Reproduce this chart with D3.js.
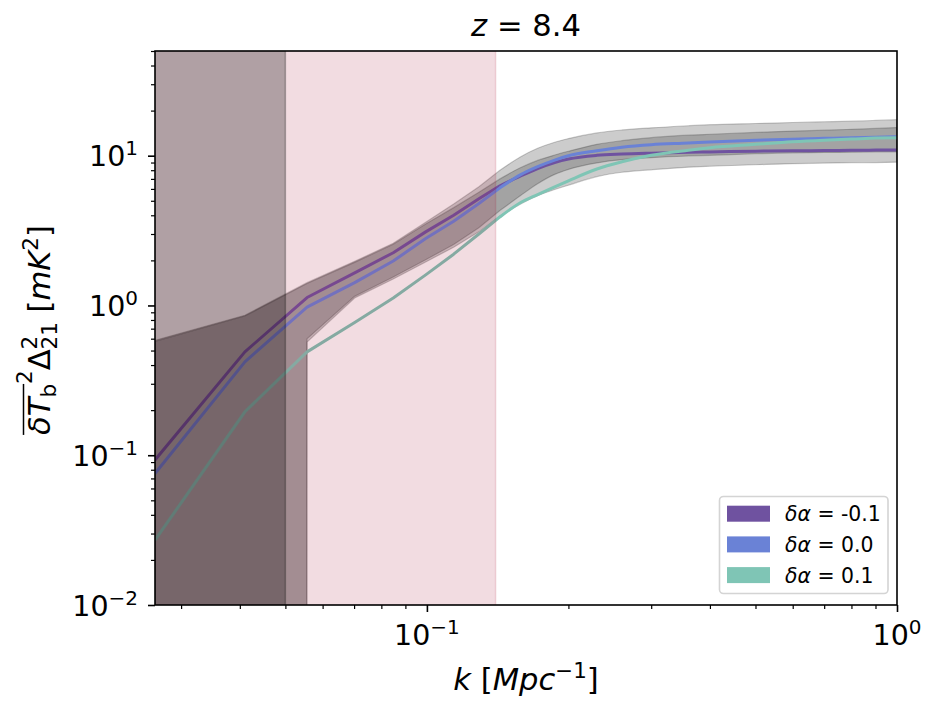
<!DOCTYPE html>
<html>
<head>
<meta charset="utf-8">
<script src="https://cdn.jsdelivr.net/npm/d3@7"></script>
<style>
  body { margin: 0; background: #fff; }
  svg { display: block; font-family: "DejaVu Sans", sans-serif; }
</style>
</head>
<body>
<svg id="chart" width="939" height="712"></svg>
<script>
// k bins [Mpc^-1]
var kVals = [0.0264, 0.041, 0.0556, 0.0702, 0.0848, 0.0994, 0.114, 0.129, 0.143, 0.158, 0.172, 0.187,
             0.2, 0.23, 0.26, 0.3, 0.36, 0.4, 0.5, 0.6, 0.7, 0.8, 0.9, 1.0];

// power spectra [mK^2] for the three delta-alpha runs
var psMinus = [0.093, 0.49, 1.13, 1.65, 2.25, 3.1, 4.0, 5.15, 6.3, 7.3, 8.2, 9.0,
               9.5, 10.05, 10.25, 10.4, 10.55, 10.6, 10.72, 10.78, 10.83, 10.86, 10.9, 10.92];
var psZero  = [0.0755, 0.42, 0.975, 1.42, 1.98, 2.8, 3.65, 4.8, 6.1, 7.45, 8.45, 9.35,
               10.0, 10.8, 11.4, 11.85, 12.15, 12.35, 12.67, 12.88, 13.05, 13.18, 13.28, 13.38];
var psPlus  = [0.0271, 0.195, 0.49, 0.77, 1.12, 1.6, 2.2, 3.0, 3.9, 4.85, 5.5, 6.2,
               6.8, 8.15, 9.1, 10.07, 10.88, 11.3, 11.9, 12.4, 12.7, 12.9, 13.1, 13.2];

// error bands around the fiducial (0 = lower edge not positive)
var outerUp  = [0.585, 0.86, 1.42, 1.97, 2.6, 3.6, 4.75, 6.2, 8.0, 9.8, 11.2, 12.3,
                13.0, 14.2, 14.85, 15.35, 15.85, 16.1, 16.4, 16.65, 16.85, 17.0, 17.2, 17.4];
var outerLow = [0, 0, 0.57, 1.12, 1.5, 1.95, 2.45, 3.1, 3.95, 4.75, 5.4, 5.95,
                6.35, 7.25, 7.75, 8.05, 8.38, 8.5, 8.7, 8.85, 8.92, 8.97, 9.0, 9.05];
var innerUp  = [0.575, 0.85, 1.4, 1.94, 2.56, 3.5, 4.5, 5.7, 7.0, 8.3, 9.3, 10.1,
                10.7, 11.9, 12.6, 13.2, 13.7, 13.9, 14.3, 14.6, 14.8, 15.0, 15.2, 15.4];
var innerLow = [0, 0, 0.6, 1.15, 1.55, 2.02, 2.55, 3.3, 4.3, 5.4, 6.5, 7.5,
                8.1, 8.95, 9.4, 9.7, 9.95, 10.05, 10.3, 10.45, 10.5, 10.55, 10.6, 10.6];

// shaded k ranges (upper k limit)
var spanPinkMax = 0.14;
var spanDarkMax = 0.05;

var seriesLabels = ["-0.1", "0.0", "0.1"];
var seriesColors = ["#6f52a0", "#6a82d6", "#7fc5b5"];

var xMajor = [0.1, 1];
var xMinor = [0.03, 0.04, 0.05, 0.06, 0.07, 0.08, 0.09, 0.2, 0.3, 0.4, 0.5, 0.6, 0.7, 0.8, 0.9];
var xMajorExp = [-1, 0];
var yMajor = [0.01, 0.1, 1, 10];
var yMajorExp = [-2, -1, 0, 1];
var yMinor = [0.02, 0.03, 0.04, 0.05, 0.06, 0.07, 0.08, 0.09,
              0.2, 0.3, 0.4, 0.5, 0.6, 0.7, 0.8, 0.9,
              2, 3, 4, 5, 6, 7, 8, 9, 20, 30, 40, 50];

var L = 155, R = 897, T = 51, B = 605;
var x = d3.scaleLog().domain([0.0264, 1.0]).range([L, R]);
var y = d3.scaleLog().domain([0.01, 50]).range([B, T]);

var svg = d3.select("#chart");
svg.append("defs").append("clipPath").attr("id", "plotClip")
    .append("rect").attr("x", L).attr("y", T).attr("width", R - L).attr("height", B - T);

var plot = svg.append("g").attr("clip-path", "url(#plotClip)");

// straight segments on the coarse low-k bins, smooth above
var split = 8;
var idxLin = d3.range(0, split + 1);
var idxMono = d3.range(split, kVals.length);

function yv(v) { return v > 0 ? y(v) : 1e5; }
function edge(vals, curve) {
    return d3.line().curve(curve)
        .x(function(i) { return x(kVals[i]); })
        .y(function(i) { return yv(vals[i]); });
}
function cont(s) { return s.replace(/^M/, "L"); }
function linePath(vals) {
    return edge(vals, d3.curveLinear)(idxLin) + cont(edge(vals, d3.curveMonotoneX)(idxMono));
}
function bandPath(lo, hi) {
    return edge(hi, d3.curveLinear)(idxLin)
        + cont(edge(hi, d3.curveMonotoneX)(idxMono))
        + cont(edge(lo, d3.curveMonotoneX)(idxMono.slice().reverse()))
        + cont(edge(lo, d3.curveLinear)(idxLin.slice().reverse())) + "Z";
}

// bands
[[outerLow, outerUp], [innerLow, innerUp]].forEach(function(b) {
    plot.append("path")
        .attr("d", bandPath(b[0], b[1]))
        .attr("fill", "rgba(0,0,0,0.2)")
        .attr("stroke", "rgba(0,0,0,0.2)")
        .attr("stroke-width", 1.2);
});

// lines
[psMinus, psZero, psPlus].forEach(function(s, j) {
    plot.append("path")
        .attr("d", linePath(s))
        .attr("fill", "none")
        .attr("stroke", seriesColors[j])
        .attr("stroke-width", 3)
        .attr("stroke-linejoin", "round");
});

// shaded spans
plot.append("rect")
    .attr("x", L - 2).attr("y", T - 2)
    .attr("width", x(spanPinkMax) - L + 2).attr("height", B - T + 4)
    .attr("fill", "rgba(168,22,55,0.15)")
    .attr("stroke", "rgba(168,22,55,0.15)")
    .attr("stroke-width", 1.5);
plot.append("rect")
    .attr("x", L - 2).attr("y", T - 2)
    .attr("width", x(spanDarkMax) - L + 2).attr("height", B - T + 4)
    .attr("fill", "rgba(0,0,0,0.27)")
    .attr("stroke", "rgba(0,0,0,0.27)")
    .attr("stroke-width", 1.5);

// axes
function styleTicks(g, w) {
    g.select(".domain").remove();
    g.selectAll(".tick line").attr("stroke", "#000").attr("stroke-width", w);
}
svg.append("g").attr("transform", "translate(0," + B + ")")
    .call(d3.axisBottom(x).tickValues(xMinor).tickSize(4).tickFormat(""))
    .call(styleTicks, 1.2);
svg.append("g").attr("transform", "translate(0," + B + ")")
    .call(d3.axisBottom(x).tickValues(xMajor).tickSize(7).tickFormat(""))
    .call(styleTicks, 1.6);
svg.append("g").attr("transform", "translate(" + L + ",0)")
    .call(d3.axisLeft(y).tickValues(yMinor).tickSize(4).tickFormat(""))
    .call(styleTicks, 1.2);
svg.append("g").attr("transform", "translate(" + L + ",0)")
    .call(d3.axisLeft(y).tickValues(yMajor).tickSize(7).tickFormat(""))
    .call(styleTicks, 1.6);

function powLabel(t, e) {
    t.append("tspan").text("10");
    t.append("tspan").attr("dy", -11).attr("font-size", "20px")
        .text(e < 0 ? "\u2212" + (-e) : "" + e);
}
xMajor.forEach(function(v, i) {
    var t = svg.append("text").attr("x", x(v)).attr("y", 645)
        .attr("text-anchor", "middle").attr("font-size", "28.5px");
    powLabel(t, xMajorExp[i]);
});
yMajor.forEach(function(v, i) {
    var t = svg.append("text").attr("x", 138).attr("y", y(v) + 10.5)
        .attr("text-anchor", "end").attr("font-size", "28.5px");
    powLabel(t, yMajorExp[i]);
});

// spines
svg.append("rect").attr("x", L).attr("y", T).attr("width", R - L).attr("height", B - T)
    .attr("fill", "none").attr("stroke", "#000").attr("stroke-width", 1.6);

// title
var title = svg.append("text").attr("x", (L + R) / 2).attr("y", 36)
    .attr("text-anchor", "middle").attr("font-size", "30.6px");
title.append("tspan").attr("font-style", "italic").text("z");
title.append("tspan").text(" = 8.4");

// x label
var xl = svg.append("text").attr("x", (L + R) / 2).attr("y", 690)
    .attr("text-anchor", "middle").attr("font-size", "30.6px");
xl.append("tspan").attr("font-style", "italic").text("k");
xl.append("tspan").text(" [");
xl.append("tspan").attr("font-style", "italic").text("Mpc");
xl.append("tspan").attr("dy", -12).attr("font-size", "21.4px").text("\u22121");
xl.append("tspan").attr("dy", 12).text("]");

// y label
var yg = svg.append("g").attr("transform", "translate(50," + ((T + B) / 2 + 2) + ") rotate(-90)");
var yl = yg.append("text").attr("x", 0).attr("y", 0)
    .attr("text-anchor", "middle").attr("font-size", "30.6px");
yl.append("tspan").attr("font-style", "italic").text("\u03b4T");
yl.append("tspan").attr("dy", 6).attr("font-size", "21.4px").text("b");
yl.append("tspan").attr("dy", -24).attr("font-size", "21.4px").text("2");
yl.append("tspan").attr("dy", 18).text("\u0394");
yl.append("tspan").attr("dy", -13).attr("font-size", "21.4px").text("2");
yl.append("tspan").attr("dx", -13.6).attr("dy", 20).attr("font-size", "21.4px").text("21");
yl.append("tspan").attr("dy", -7).text(" [");
yl.append("tspan").attr("font-style", "italic").text("mK");
yl.append("tspan").attr("dy", -12).attr("font-size", "21.4px").text("2");
yl.append("tspan").attr("dy", 12).text("]");
var ylNode = yl.node();
var ox0 = ylNode.getStartPositionOfChar(0).x;
var ox1 = ylNode.getEndPositionOfChar(2).x;
yg.append("line").attr("x1", ox0).attr("x2", ox1).attr("y1", -26.5).attr("y2", -26.5)
    .attr("stroke", "#000").attr("stroke-width", 1.5);

// legend
var lg = svg.append("g");
lg.append("rect").attr("x", 719.5).attr("y", 496.5).attr("width", 168.5).attr("height", 97)
    .attr("rx", 4).attr("fill", "rgba(255,255,255,0.8)")
    .attr("stroke", "#d4d4d4").attr("stroke-width", 1.6);
seriesLabels.forEach(function(lab, i) {
    var cy = 513.7 + i * 30.7;
    lg.append("rect").attr("x", 727).attr("y", cy - 8).attr("width", 43).attr("height", 16)
        .attr("fill", seriesColors[i]);
    var t = lg.append("text").attr("x", 785).attr("y", cy + 7.5).attr("font-size", "20.4px");
    t.append("tspan").attr("font-style", "italic").text("\u03b4\u03b1");
    t.append("tspan").text(" = " + lab);
});
</script>
</body>
</html>
